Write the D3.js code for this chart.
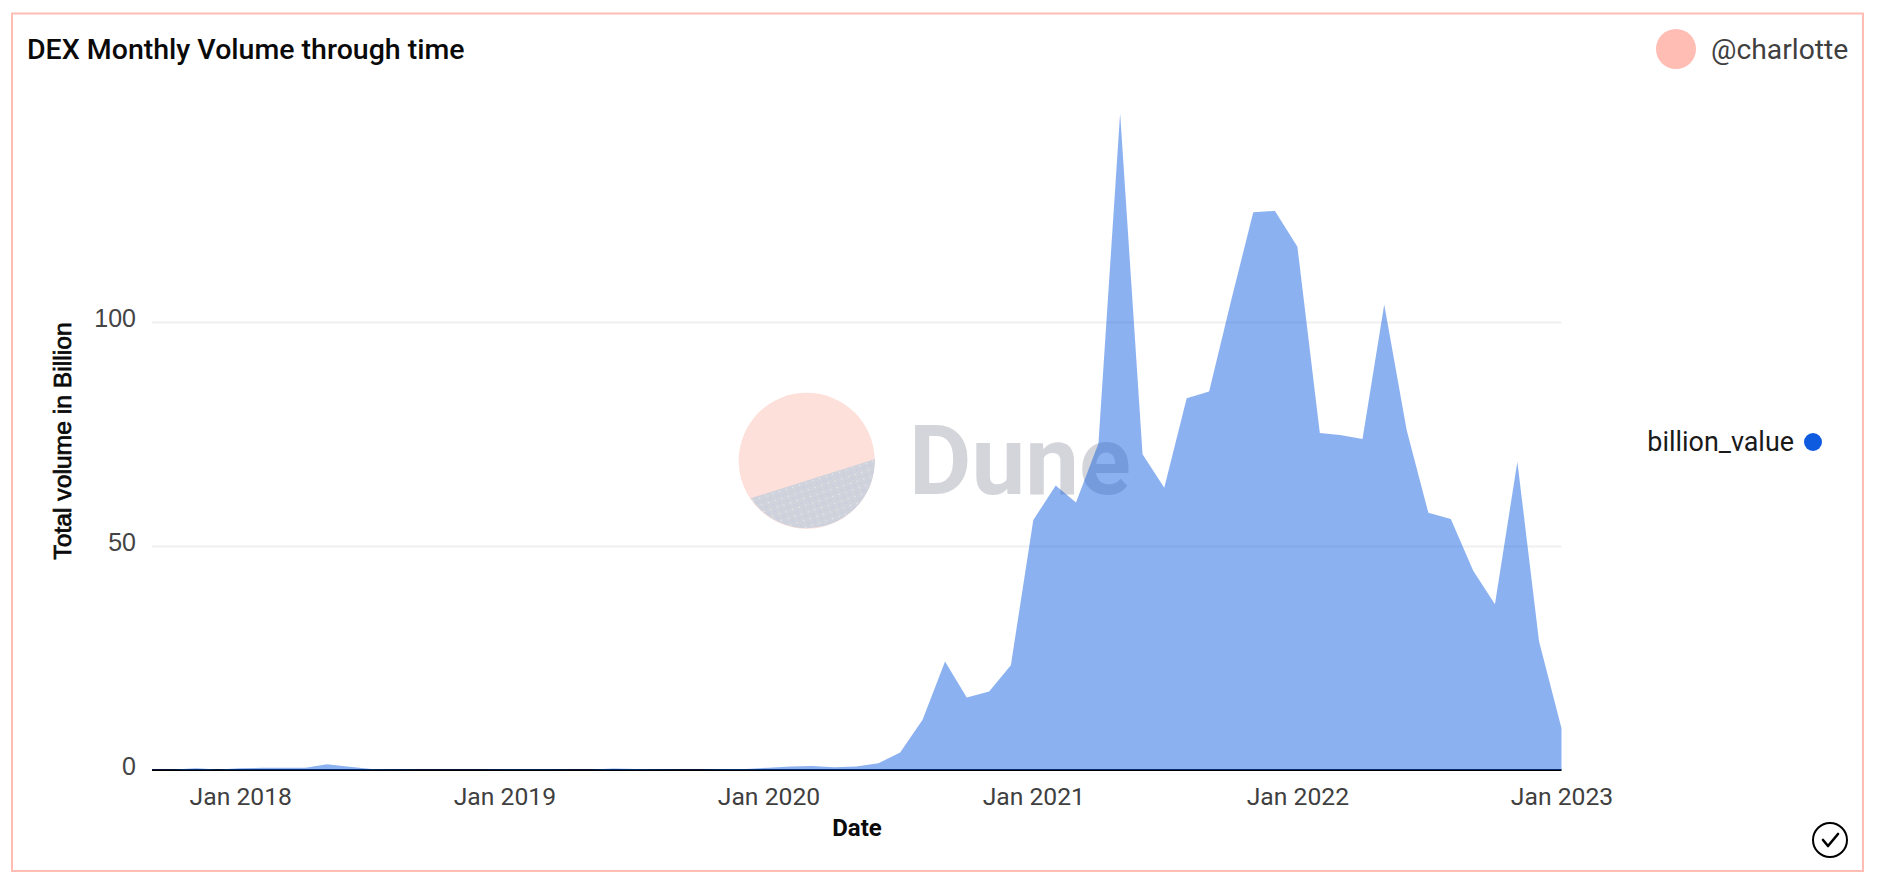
<!DOCTYPE html>
<html>
<head>
<meta charset="utf-8">
<script src="https://cdn.jsdelivr.net/npm/d3@7"></script>
<style>
html,body{margin:0;padding:0;background:#fff;}
svg{display:block;font-family:Roboto,"Noto Sans",sans-serif;}
</style>
</head>
<body>
<div id="chart"></div>
<script>
const chartTitle = "DEX Monthly Volume through time";
const author = "@charlotte";
const seriesName = "billion_value";
const xTitle = "Date";
const yTitle = "Total volume in Billion";
const firstMonth = "2017-09-01";
const billionValue = [
  0.1,0.1,0.4,0.1,0.4,0.5,0.5,0.5,1.3,0.7,0.25,0.15,
  0.1,0.1,0.1,0.1,0.15,0.15,0.15,0.1,0.1,0.35,0.25,0.15,
  0.1,0.1,0.2,0.25,0.5,0.8,0.9,0.6,0.8,1.5,3.9,11.2,
  24.2,16.2,17.5,23.4,55.8,63.5,59.7,72.9,146.6,70.5,63,83,
  84.5,104.5,124.5,124.8,116.8,75.2,74.8,73.9,103.9,75.9,57.4,56,
  44.5,37,68.8,28.7,9.3
];
const xTickDates = ["2018-01-01","2019-01-01","2020-01-01","2021-01-01","2022-01-01","2023-01-01"];
const yTickValues = [0,50,100];

const W=1878,H=886;
const parse=d3.utcParse("%Y-%m-%d");
const months=d3.utcMonth.range(parse(firstMonth),d3.utcMonth.offset(parse(firstMonth),billionValue.length));
const rows=months.map((d,i)=>({date:d,value:billionValue[i]}));

const x=d3.scaleUtc().domain(d3.extent(months)).range([152,1561.5]);
const y=d3.scaleLinear().domain([0,100]).range([770,322]);

const svg=d3.select("#chart").append("svg").attr("width",W).attr("height",H).attr("viewBox",`0 0 ${W} ${H}`);
svg.append("rect").attr("width",W).attr("height",H).attr("fill","#fff");
svg.append("rect").attr("x",12).attr("y",13.5).attr("width",1851).attr("height",857.5)
  .attr("fill","#fff").attr("stroke","#ffbdb4").attr("stroke-width",2);

svg.append("text").attr("x",27).attr("y",59).attr("font-size",28.5).attr("font-weight",500).attr("fill","#0a0a0a").text(chartTitle);
svg.append("circle").attr("cx",1676).attr("cy",49).attr("r",20).attr("fill","#ffbdb4");
svg.append("text").attr("x",1711).attr("y",59).attr("font-size",28.3).attr("fill","#3f3f3f").text(author);

// grid and y axis
const yAxis=svg.append("g").attr("transform","translate(152,0)")
  .call(d3.axisLeft(y).tickValues(yTickValues).tickSize(0).tickPadding(16).tickFormat(d3.format("d")));
yAxis.select(".domain").remove();
yAxis.selectAll("text").attr("font-size",25).attr("font-family","'Liberation Sans',sans-serif").attr("fill","#444").attr("dy","0.19em");
yAxis.selectAll(".tick").filter(d=>d>0).append("line").attr("x1",0).attr("x2",1409.5).attr("stroke","#f0f0f0").attr("stroke-width",2);

// watermark
const defs=svg.append("defs");
const pat=defs.append("pattern").attr("id","dots").attr("width",7).attr("height",7).attr("patternUnits","userSpaceOnUse").attr("patternTransform","rotate(-18)");
pat.append("rect").attr("width",7).attr("height",7).attr("fill","#d0d2dc");
pat.append("circle").attr("cx",1.5).attr("cy",1.5).attr("r",0.7).attr("fill","#eceef2");
pat.append("circle").attr("cx",5).attr("cy",5).attr("r",0.7).attr("fill","#bccbea");
const wm=svg.append("g");
const pieC=[806.7,460.7],pieR=68;
wm.append("circle").attr("cx",pieC[0]).attr("cy",pieC[1]).attr("r",pieR).attr("fill","#fde0da");
wm.append("path").attr("fill","url(#dots)").attr("d",`M750.7,498.3 A${pieR},${pieR} 0 0 0 875,459 Z`);
wm.append("text").attr("x",909).attr("y",494).attr("font-size",96).attr("font-weight",700).attr("fill","#d4d5da").text("Dune");

// baseline
svg.append("line").attr("x1",152).attr("x2",1561.5).attr("y1",y(0)).attr("y2",y(0)).attr("stroke","#000").attr("stroke-width",2);

// area
svg.append("path").datum(rows).attr("fill","#0f5be0").attr("fill-opacity",0.48)
  .attr("d",d3.area().x(d=>x(d.date)).y0(y(0)).y1(d=>y(d.value)));

// x axis
const xAxis=svg.append("g").attr("transform",`translate(0,${y(0)})`)
  .call(d3.axisBottom(x).tickValues(xTickDates.map(parse)).tickSize(0).tickPadding(17).tickFormat(d3.utcFormat("%b %Y")));
xAxis.select(".domain").remove();
xAxis.selectAll("text").attr("font-size",24.7).attr("font-family","Roboto,sans-serif").attr("fill","#3f3f3f");

svg.append("text").attr("x",857).attr("y",836).attr("text-anchor","middle").attr("font-size",24).attr("font-weight",700).attr("fill","#0a0a0a").text(xTitle);
svg.append("text").attr("transform","translate(70.7,441) rotate(-90)").attr("text-anchor","middle").attr("font-size",24.7).attr("font-family","'Liberation Sans',sans-serif").attr("stroke","#0a0a0a").attr("stroke-width",0.7).attr("fill","#0a0a0a").text(yTitle);

// legend
svg.append("text").attr("x",1794).attr("y",451).attr("text-anchor","end").attr("font-size",26.9).attr("fill","#1a1a1a").text(seriesName);
svg.append("circle").attr("cx",1813).attr("cy",442).attr("r",9).attr("fill","#0f5be0");

// check icon
const chk=svg.append("g").attr("transform","translate(1830,840)");
chk.append("circle").attr("r",17).attr("fill","none").attr("stroke","#000").attr("stroke-width",2);
chk.append("path").attr("d","M-7,0 L-2,6 L8,-6").attr("fill","none").attr("stroke","#000").attr("stroke-width",2.6).attr("stroke-linecap","round").attr("stroke-linejoin","round");
</script>
</body>
</html>
